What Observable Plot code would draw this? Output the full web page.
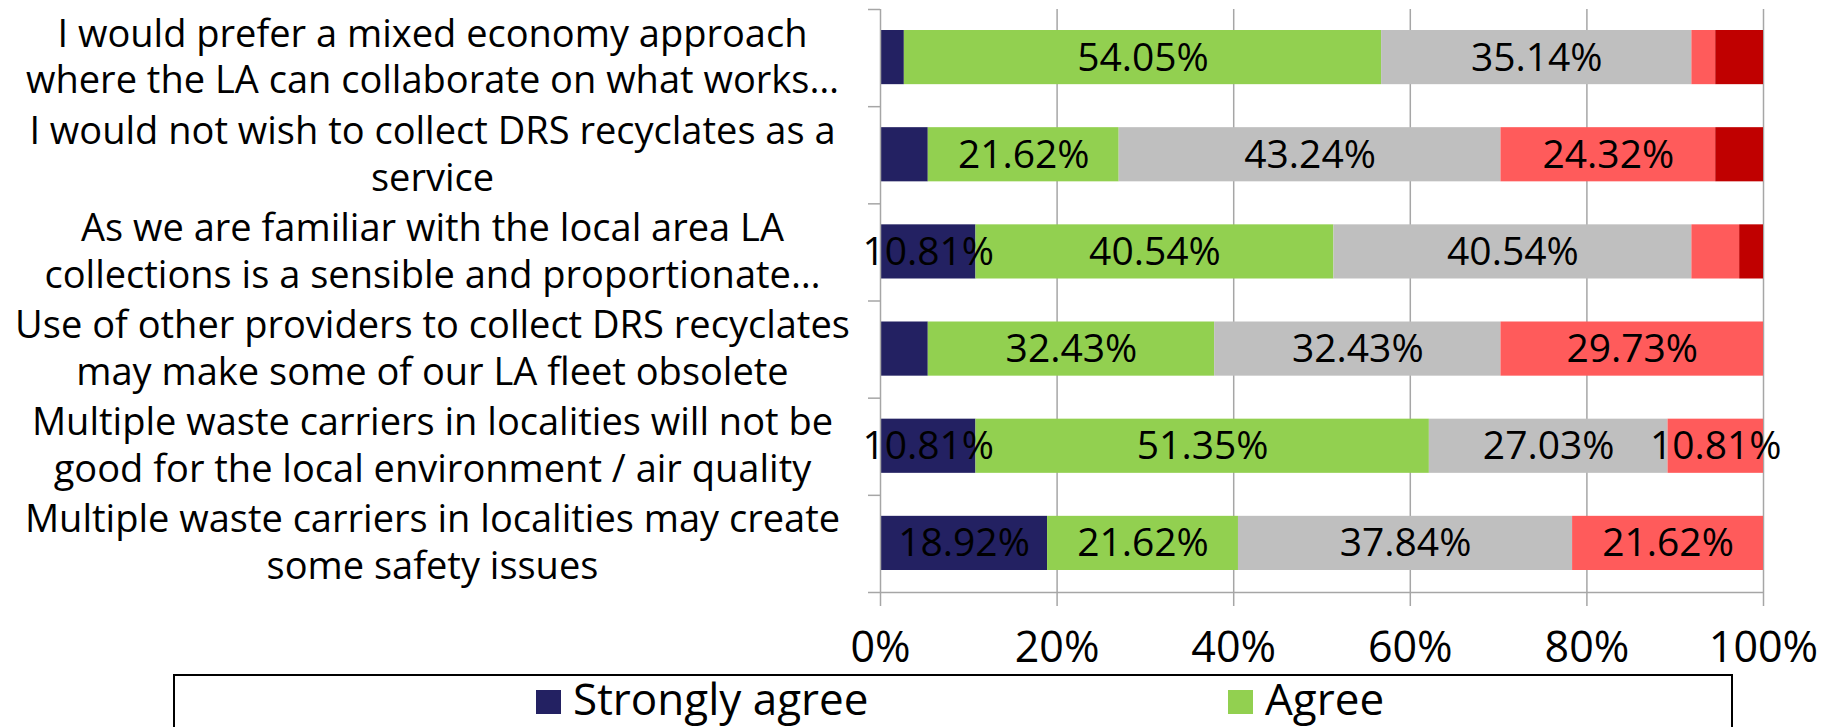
<!DOCTYPE html>
<html>
<head>
<meta charset="utf-8">
<script src="https://cdn.jsdelivr.net/npm/d3@7"></script>
<script src="https://cdn.jsdelivr.net/npm/@observablehq/plot@0.6"></script>
<style>
  html, body { margin: 0; padding: 0; background: #fff; overflow: hidden; }
  #chart { position: relative; width: 1839px; }
  #legend {
    margin-left: 173px; width: 1560px; height: 120px; box-sizing: border-box;
    border: 2px solid #000; padding-left: 361px; overflow: hidden;
    display: grid; grid-template-columns: 692px 692px; grid-auto-rows: 60px;
    font-family: "Open Sans", sans-serif; font-size: 44px; line-height: 1; color: #000;
  }
  .item { display: flex; align-items: flex-start; white-space: nowrap; }
  .sw { width: 25px; height: 24px; margin-top: 14px; margin-right: 12px; flex: none; }
</style>
</head>
<body>
<div id="chart"></div>
<div id="legend"></div>
<script>
const categories = [
  "I would prefer a mixed economy approach\nwhere the LA can collaborate on what works…",
  "I would not wish to collect DRS recyclates as a\nservice",
  "As we are familiar with the local area LA\ncollections is a sensible and proportionate…",
  "Use of other providers to collect DRS recyclates\nmay make some of our LA fleet obsolete",
  "Multiple waste carriers in localities will not be\ngood for the local environment / air quality",
  "Multiple waste carriers in localities may create\nsome safety issues"
];
const seriesNames = ["Strongly agree", "Agree", "Neither agree nor disagree", "Disagree", "Strongly disagree"];
const seriesColors = ["#232162", "#92D050", "#BFBFBF", "#FF5B5B", "#C00000"];
const stronglyAgree = [2.70, 5.41, 10.81, 5.41, 10.81, 18.92];
const agree         = [54.05, 21.62, 40.54, 32.43, 51.35, 21.62];
const neither       = [35.14, 43.24, 40.54, 32.43, 27.03, 37.84];
const disagree      = [2.70, 24.32, 5.41, 29.73, 10.81, 21.62];
const stronglyDisagree = [5.41, 5.41, 2.70, 0, 0, 0];
const xTicks = [0, 20, 40, 60, 80, 100];
// legend entries visible in the reference (the rest fall below the picture)
const legendVisible = ["Strongly agree", "Agree"];

const seriesValues = [stronglyAgree, agree, neither, disagree, stronglyDisagree];
const rows = [];
categories.forEach((c, i) => {
  let acc = 0;
  seriesValues.forEach((vals, s) => {
    const v = vals[i];
    rows.push({cat: c, idx: i, series: seriesNames[s], value: v, x1: acc, x2: acc + v});
    acc += v;
  });
});

const labelCenter = 432, labelScale = 0.975;
const gridColor = "#a6a6a6";

const plot = Plot.plot({
  width: 1839,
  height: 674,
  marginLeft: 880,
  marginRight: 76,
  marginTop: 9,
  marginBottom: 82,
  style: {fontFamily: "Open Sans, sans-serif", color: "#000", background: "#fff"},
  x: {domain: [0, 100], axis: null, label: null},
  y: {domain: [0, categories.length], reverse: true, axis: null, label: null},
  color: {domain: seriesNames, range: seriesColors},
  marks: [
    Plot.ruleX(xTicks.filter(d => d > 0), {stroke: gridColor, strokeWidth: 1.5}),
    Plot.rect(rows.filter(d => d.value > 0), {
      x1: "x1", x2: "x2", y1: "idx", y2: d => d.idx + 1,
      fill: d => d.series, insetTop: 21, insetBottom: 22
    }),
    Plot.ruleX([0], {stroke: gridColor, strokeWidth: 1.5}),
    Plot.ruleY([categories.length], {stroke: gridColor, strokeWidth: 1.5}),
    Plot.axisY({ticks: d3.range(categories.length + 1), tickSize: 12, tickFormat: () => "", label: null, stroke: gridColor, strokeWidth: 1.5}),
    Plot.axisX({ticks: xTicks, tickSize: 14, tickPadding: 25, tickFormat: d => d + "%", label: null, fontSize: 43, stroke: gridColor, strokeWidth: 1.5, fill: "#000"}),
    Plot.text(rows.filter(d => d.value >= 10), {
      x: d => (d.x1 + d.x2) / 2, y: d => d.idx + 0.5,
      text: d => d.value.toFixed(2) + "%", fontSize: 39, fill: "#000"
    }),
    Plot.text(categories, {
      y: (d, i) => i + 0.5, text: d => d, frameAnchor: "left", dx: labelCenter - 880, dy: -3,
      textAnchor: "middle", fontSize: 39, lineHeight: 1.2, fill: "#000",
      render: (index, scales, values, dims, context, next) => {
        const g = next(index, scales, values, dims, context);
        const wrap = d3.create("svg:g")
          .attr("transform", `translate(${labelCenter},0) scale(${labelScale},1) translate(${-labelCenter},0)`);
        wrap.node().appendChild(g);
        return wrap.node();
      }
    })
  ]
});
document.getElementById("chart").appendChild(plot);

const legend = d3.select("#legend");
seriesNames.forEach((name, i) => {
  if (!legendVisible.includes(name)) return;
  const item = legend.append("div").attr("class", "item");
  item.append("div").attr("class", "sw").style("background", seriesColors[i]);
  item.append("span").text(name);
});
</script>
</body>
</html>
